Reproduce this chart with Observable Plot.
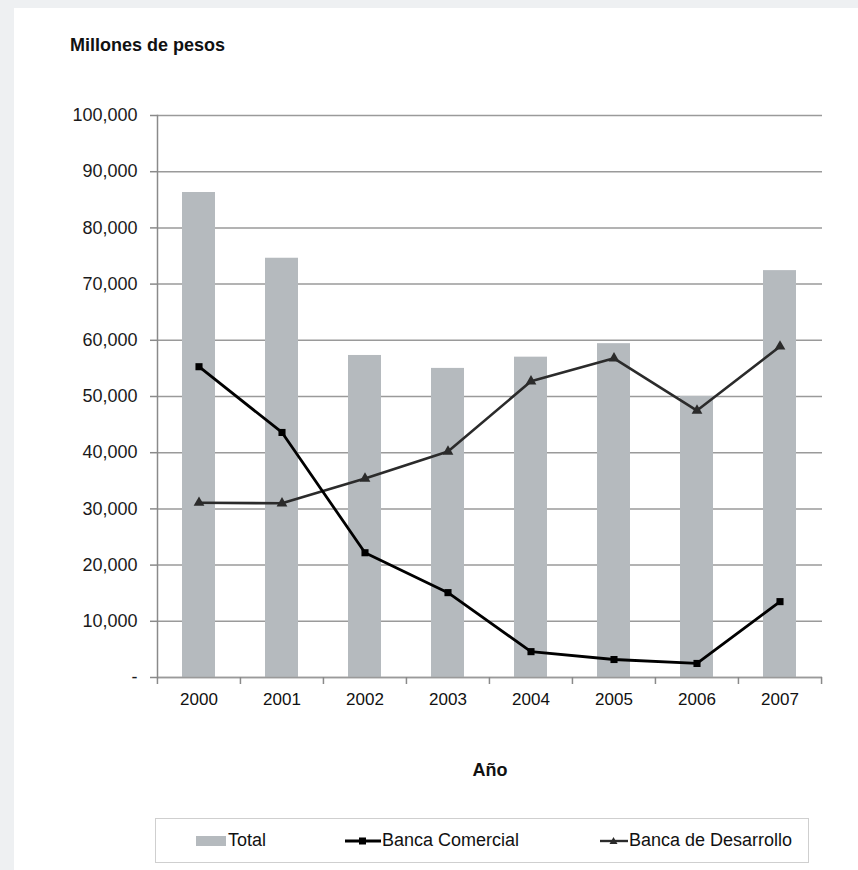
<!DOCTYPE html>
<html>
<head>
<meta charset="utf-8">
<script src="https://cdn.jsdelivr.net/npm/d3@7"></script>
<script src="https://cdn.jsdelivr.net/npm/@observablehq/plot@0.6"></script>
<style>
  html, body { margin: 0; padding: 0; background: #eef0f2; width: 858px; height: 870px; overflow: hidden; }
  #panel { position: absolute; left: 14px; top: 8px; width: 844px; height: 862px; background: #fff; }
  #title { position: absolute; left: 70px; top: 35px; font: bold 18px "Liberation Sans", Arial, sans-serif; color: #111; }
  #chart { position: absolute; left: 0; top: 90px; }
  #legend { position: absolute; left: 155px; top: 818px; width: 652px; height: 43px; border: 1px solid #cfcfcf; background: #fff;
            font: 18px "Liberation Sans", Arial, sans-serif; color: #111; }
  .item { position: absolute; top: 0; height: 43px; display: flex; align-items: center; }
  .item svg { display: block; }
</style>
</head>
<body>
<div id="panel"></div>
<div id="title">Millones de pesos</div>
<div id="chart"></div>
<div id="legend"></div>
<script>
const years = ["2000", "2001", "2002", "2003", "2004", "2005", "2006", "2007"];
const total = [86300, 74600, 57300, 55000, 57000, 59400, 50000, 72400];
const comercial = [55300, 43600, 22200, 15100, 4600, 3200, 2500, 13500];
const desarrollo = [31100, 31000, 35400, 40200, 52700, 56800, 47500, 58900];
const yTicks = [0, 10000, 20000, 30000, 40000, 50000, 60000, 70000, 80000, 90000, 100000];

const rows = years.map((y, i) => ({year: y, total: total[i], comercial: comercial[i], desarrollo: desarrollo[i]}));

const W = 858, mL = 157, mR = 36;
const step = (W - mL - mR) / years.length;

const chart = Plot.plot({
  width: W,
  height: 700,
  marginLeft: mL,
  marginRight: mR,
  marginTop: 25,
  marginBottom: 113,
  style: {fontFamily: "'Liberation Sans', Arial, sans-serif", fontSize: "18px", color: "#222", background: "transparent"},
  x: {domain: years, paddingInner: 0.6, paddingOuter: 0.3, label: null},
  y: {domain: [0, 100000], label: null},
  marks: [
    Plot.gridY(yTicks, {stroke: "#9a9a9a", strokeOpacity: 1, strokeWidth: 1.5}),
    Plot.barY(rows, {x: "year", y: "total", fill: "#b5babe"}),
    Plot.ruleY([0], {stroke: "#9a9a9a", strokeWidth: 1.5}),
    Plot.frame({anchor: "left", stroke: "#8a8a8a", strokeWidth: 1.5}),
    Plot.axisY(yTicks, {
      tickSize: 7, tickPadding: 13, stroke: "#8a8a8a", strokeWidth: 1.5,
      tickFormat: d => d === 0 ? "-" : d3.format(",")(d), fill: "#1a1a1a", label: null
    }),
    Plot.axisX(years, {tickSize: 7, text: null, dx: -step / 2, stroke: "#8a8a8a", strokeWidth: 1.5, label: null}),
    Plot.axisX([years[years.length - 1]], {tickSize: 7, text: null, dx: step / 2, stroke: "#8a8a8a", strokeWidth: 1.5, label: null}),
    Plot.axisX(years, {tickSize: 0, tickPadding: 15, fontSize: 17, fill: "#111", label: null}),
    Plot.text(["Año"], {frameAnchor: "bottom", dy: 98, fontWeight: "bold", fontSize: 18, fill: "#111"}),
    Plot.lineY(rows, {x: "year", y: "desarrollo", stroke: "#2b2b2b", strokeWidth: 2.6}),
    Plot.dot(rows, {x: "year", y: "desarrollo", symbol: "triangle", r: 4, fill: "#2b2b2b", stroke: "none"}),
    Plot.lineY(rows, {x: "year", y: "comercial", stroke: "#000", strokeWidth: 2.8}),
    Plot.dot(rows, {x: "year", y: "comercial", symbol: "square", r: 4, fill: "#000", stroke: "none"})
  ]
});
document.getElementById("chart").appendChild(chart);

// Legend
const legend = document.getElementById("legend");
function addItem(left, svg, label) {
  const d = document.createElement("div");
  d.className = "item";
  d.style.left = left + "px";
  d.innerHTML = svg + `<span>${label}</span>`;
  legend.appendChild(d);
}
addItem(40, `<svg width="32" height="12"><rect x="0" y="1" width="30" height="10" fill="#b5babe"/></svg>`, "Total");
addItem(189, `<svg width="37" height="12"><line x1="0" y1="6" x2="36" y2="6" stroke="#000" stroke-width="2.8"/><rect x="14" y="2.5" width="7" height="7" fill="#000"/></svg>`, "Banca Comercial");
addItem(444, `<svg width="29" height="12"><line x1="0" y1="6" x2="28" y2="6" stroke="#2b2b2b" stroke-width="2.4"/><path d="M13.5,2 L17.5,9 L9.5,9 Z" fill="#2b2b2b"/></svg>`, "Banca de Desarrollo");
</script>
</body>
</html>
